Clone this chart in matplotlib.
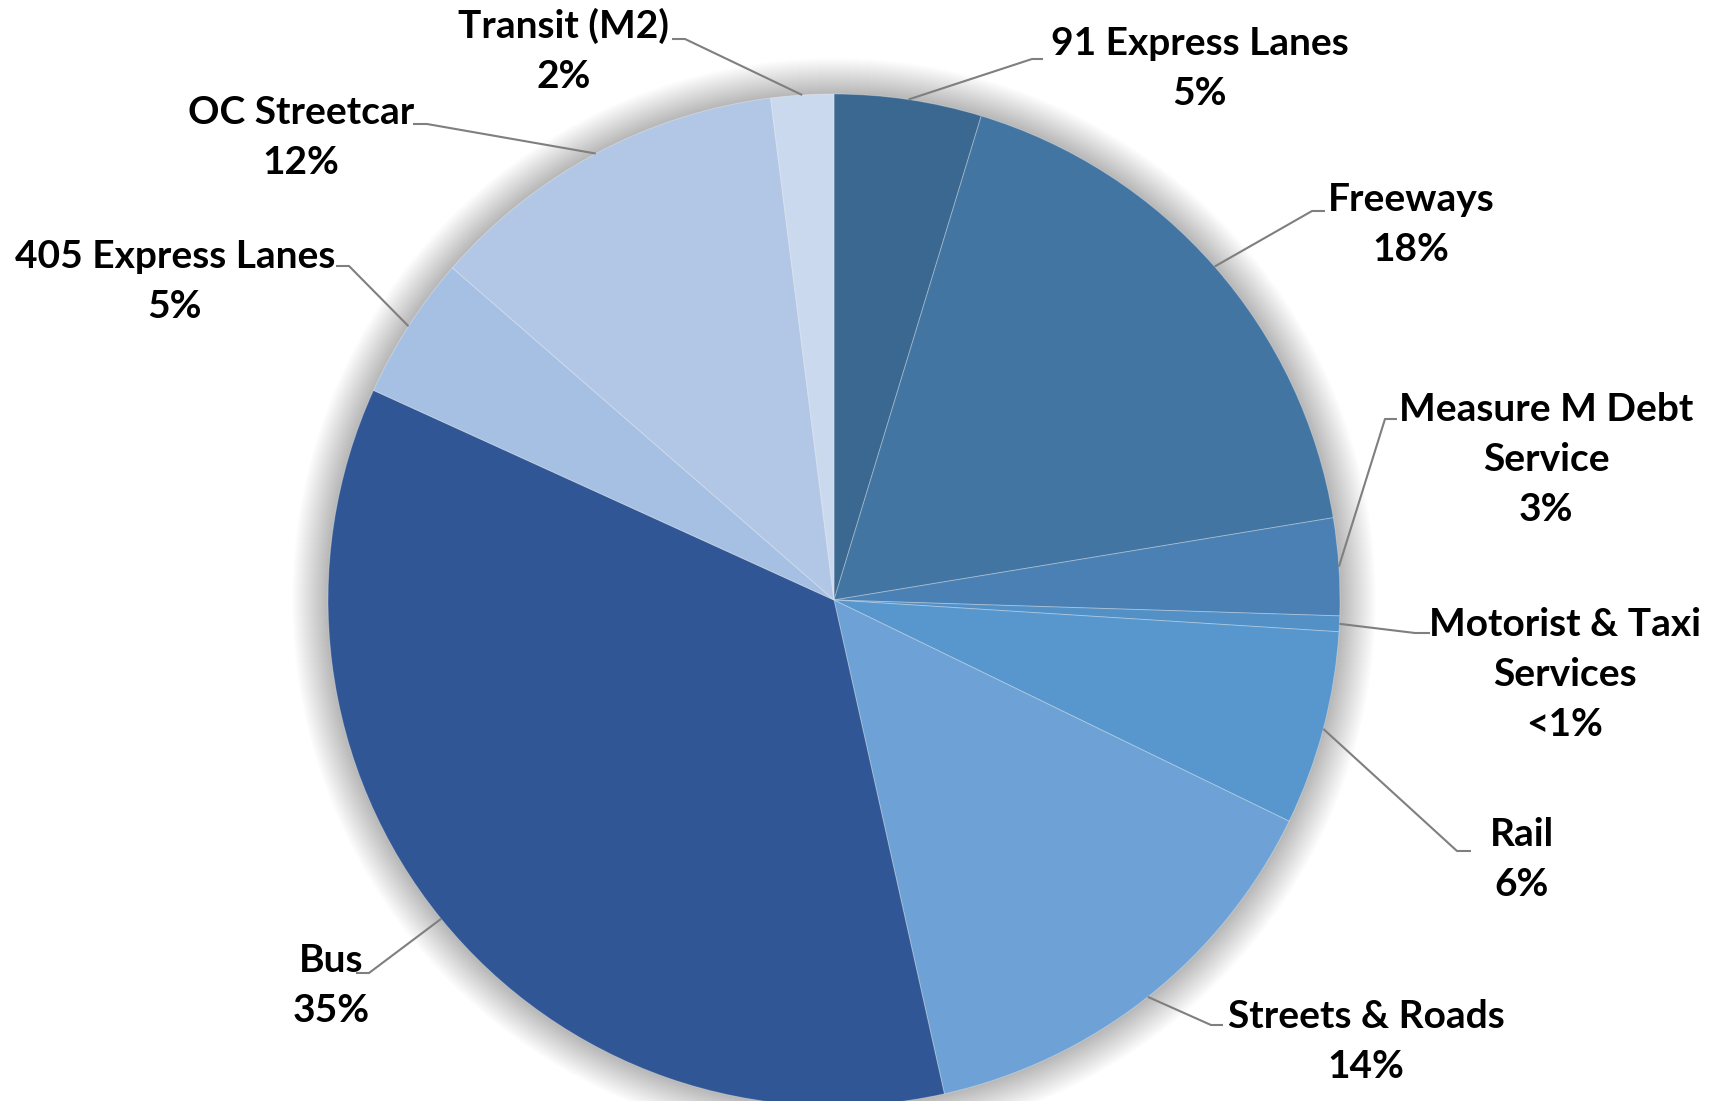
import numpy as np
import matplotlib
matplotlib.use("Agg")
import matplotlib.pyplot as plt
from matplotlib.patches import Circle

# --------------------- data ---------------------
names = ["91 Express Lanes", "Freeways", "Measure M Debt\nService",
         "Motorist & Taxi\nServices", "Rail", "Streets & Roads", "Bus",
         "405 Express Lanes", "OC Streetcar", "Transit (M2)"]
shares = [4.7, 17.7, 3.1, 0.5, 6.2, 14.3, 35.3, 4.6, 11.6, 2.0]
pct_labels = ["5%", "18%", "3%", "<1%", "6%", "14%", "35%", "5%", "12%", "2%"]
colors = ["#3A6890", "#4375A3", "#4A80B4", "#5290C6", "#5797CD",
          "#6EA2D6", "#305695", "#A6C0E4", "#B2C7E6", "#CBD9EE"]

# --------------------- layout (pixels, top-left origin) ---------------------
W, H = 1711, 1101
cx, cy, R = 834, 600, 506
# first-line baseline position of each label
label_xy = [(1200, 55), (1411, 211), (1546, 421), (1565, 636), (1522, 846),
            (1366, 1028), (331, 972), (175, 268), (301, 124), (564, 38)]
# elbow of each leader line and the end of its short horizontal tail
elbow = [(1032, 59), (1312, 211), (1385, 419), (1415, 633), (1457, 851),
         (1211, 1025), (369, 973), (349, 266), (427, 124), (685, 39)]
tail = [(1043, 59), (1325, 211), (1397, 419), (1430, 633), (1471, 851),
        (1223, 1025), (356, 973), (336, 266), (413, 124), (672, 39)]
line_gap = 50
f_size = 28


def fy(y):
    return H - y


fig = plt.figure(figsize=(W / 100, H / 100), dpi=100)
ax = fig.add_axes([0, 0, 1, 1])

# soft outer shadow
for k in range(36, 0, -1):
    ax.add_patch(Circle((cx, fy(cy)), R + k, color="black", alpha=0.0065,
                        lw=0, zorder=0))

wedges, _ = ax.pie(shares, colors=colors, startangle=90, counterclock=False,
                   center=(cx, fy(cy)), radius=R,
                   wedgeprops=dict(linewidth=0.7, edgecolor=(1, 1, 1, 0.3)))
for w in wedges:
    w.set_zorder(2)

ax.set_xlim(0, W)
ax.set_ylim(0, H)
ax.set_aspect("equal")
ax.axis("off")

for i, w in enumerate(wedges):
    mid = np.deg2rad((w.theta1 + w.theta2) / 2)
    x0 = cx + R * np.cos(mid)
    y0 = fy(cy) + R * np.sin(mid)
    ex, ey = elbow[i]
    tx, ty = tail[i]
    ax.plot([x0, ex, tx], [y0, fy(ey), fy(ty)], color="#7F7F7F", lw=1.5,
            zorder=3, solid_capstyle="butt")

    lines = names[i].split("\n") + [pct_labels[i]]
    lx, ly = label_xy[i]
    for j, s in enumerate(lines):
        ax.text(lx, fy(ly + j * line_gap), s, ha="center", va="baseline",
                fontsize=f_size, fontweight="bold", family="Lato",
                color="black", zorder=4)

fig.savefig("out.png", dpi=100, facecolor="white")
